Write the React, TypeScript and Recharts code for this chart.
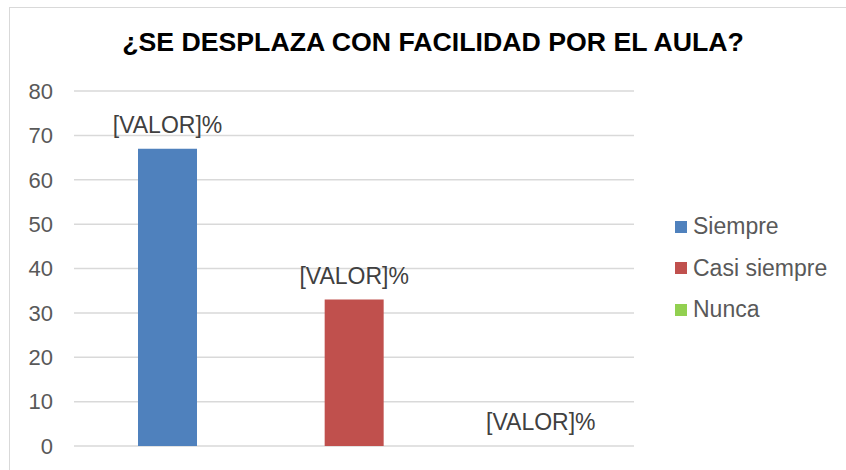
import { Bar, BarChart, CartesianGrid, Cell, XAxis, YAxis } from "recharts";

const categorias = ["Siempre", "Casi siempre", "Nunca"];
const valores = [67, 33, 0];
const colores = ["#4f81bd", "#c0504d", "#92d050"];
const ticksY = [0, 10, 20, 30, 40, 50, 60, 70, 80];
const etiqueta = "[VALOR]%";

const FONT = "'Liberation Sans', Arial, sans-serif";

const data = categorias.map((cat, i) => ({ name: cat, valor: valores[i] }));

function ValorLabel(props: any) {
  const { x, y, width } = props;
  return (
    <text x={Number(x) + Number(width) / 2} y={Number(y) - 24} textAnchor="middle" dominantBaseline="central" fontSize={23} fill="#404040" fontFamily={FONT}>
      {etiqueta}
    </text>
  );
}

function Leyenda() {
  return (
    <div style={{ position: "absolute", left: 675, top: 206, fontFamily: FONT }}>
      {categorias.map((cat, i) => (
        <div key={cat} style={{ display: "flex", alignItems: "center", height: 41.5 }}>
          <span style={{ width: 12, height: 12, background: colores[i], marginRight: 6 }} />
          <span style={{ fontSize: 23, color: "#595959" }}>{cat}</span>
        </div>
      ))}
    </div>
  );
}

export default function App() {
  return (
    <div style={{ position: "absolute", left: 0, top: 0, width: 846, height: 470, background: "#fff", overflow: "hidden" }}>
      <div style={{ position: "absolute", left: 9, top: 7, width: 837, height: 463, borderTop: "1px solid #d9d9d9", borderLeft: "1px solid #d9d9d9", boxSizing: "border-box" }} />
      <div style={{ position: "absolute", left: 0, width: 866, top: 27, textAlign: "center", fontFamily: FONT, fontWeight: 700, fontSize: 26.7, lineHeight: "31px", color: "#000" }}>
        ¿SE DESPLAZA CON FACILIDAD POR EL AULA?
      </div>
      <div style={{ position: "absolute", left: 0, top: 0 }}>
        <BarChart width={846} height={470} data={data} margin={{ top: 91, right: 212, bottom: 24, left: 0 }} barSize={59}>
          <CartesianGrid vertical={false} stroke="#d9d9d9" strokeWidth={1.5} />
          <XAxis dataKey="name" hide />
          <YAxis
            width={74}
            domain={[0, 80]}
            ticks={ticksY}
            interval={0}
            axisLine={false}
            tickLine={false}
            tickSize={0}
            tickMargin={21}
            tick={{ fontSize: 22, fill: "#595959", fontFamily: FONT }}
          />
          <Bar dataKey="valor" isAnimationActive={false} minPointSize={0.01} label={(p: any) => <ValorLabel {...p} />}>
            {data.map((d, i) => (
              <Cell key={d.name} fill={colores[i]} />
            ))}
          </Bar>
        </BarChart>
      </div>
      <Leyenda />
    </div>
  );
}
